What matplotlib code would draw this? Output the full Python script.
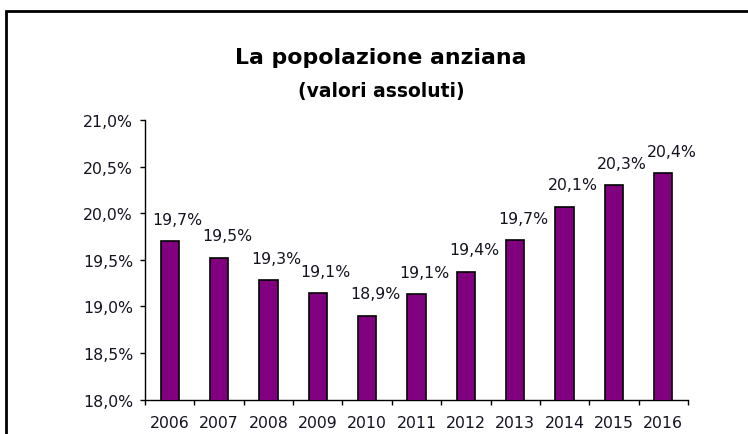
import numpy as np
import matplotlib
matplotlib.use("Agg")
import matplotlib.pyplot as plt
from matplotlib.patches import Rectangle

anni = ['2006', '2007', '2008', '2009', '2010', '2011', '2012', '2013', '2014', '2015', '2016']
quota = [19.70, 19.52, 19.28, 19.14, 18.90, 19.13, 19.37, 19.71, 20.07, 20.30, 20.43]
yticks = [18.0, 18.5, 19.0, 19.5, 20.0, 20.5, 21.0]

plt.rcParams['font.family'] = ['DejaVu Sans']
testo = '#141420'
fs = 11.3

fig = plt.figure(figsize=(7.48, 4.35), dpi=100)

# cornice del grafico (tagliata a destra e in basso come nell'originale)
fig.patches.append(Rectangle((6/748, -0.2), 1.2, 1 - 12/435 + 0.2, transform=fig.transFigure,
                             fill=False, edgecolor='black', linewidth=2, clip_on=False))

ax = fig.add_axes([145/748, 1 - 400.7/435, (688 - 145)/748, (400.7 - 121)/435])

x = np.arange(len(anni)) + 0.5
ax.bar(x, quota, width=0.37, bottom=0, color='#800080', edgecolor='black', linewidth=1.2, zorder=3)

for xi, v in zip(x, quota):
    ax.annotate(f"{v:.1f}%".replace('.', ','), (xi, v), xytext=(5.8, 12.7), textcoords='offset points',
                ha='center', va='baseline', fontsize=fs, color=testo)

ax.set_xlim(0, len(anni))
ax.set_ylim(18.0, 21.0)
ax.set_yticks(yticks)
ax.set_yticklabels([f"{t:.1f}%".replace('.', ',') for t in yticks], fontsize=fs, color=testo)
ax.set_xticks(np.arange(len(anni) + 1))
ax.set_xticklabels([])
ax.set_xticks(x, minor=True)
ax.set_xticklabels(anni, minor=True, fontsize=fs, color=testo)
ax.tick_params(axis='x', which='major', direction='out', length=3.6, width=1)
ax.tick_params(axis='x', which='minor', length=0, pad=11)
ax.tick_params(axis='y', direction='out', length=3.6, width=1, pad=5)

for s in ['top', 'right']:
    ax.spines[s].set_visible(False)
ax.spines['left'].set_linewidth(1)
ax.spines['bottom'].set_linewidth(1)

fig.text(381/748, 1 - 58/435, 'La popolazione anziana', ha='center', va='center',
         fontsize=15.8, fontweight='bold', color='black')
fig.text(381/748, 1 - 92/435, '(valori assoluti)', ha='center', va='center',
         fontsize=13.5, fontweight='bold', color='black')

fig.savefig('out.png', dpi=100)
